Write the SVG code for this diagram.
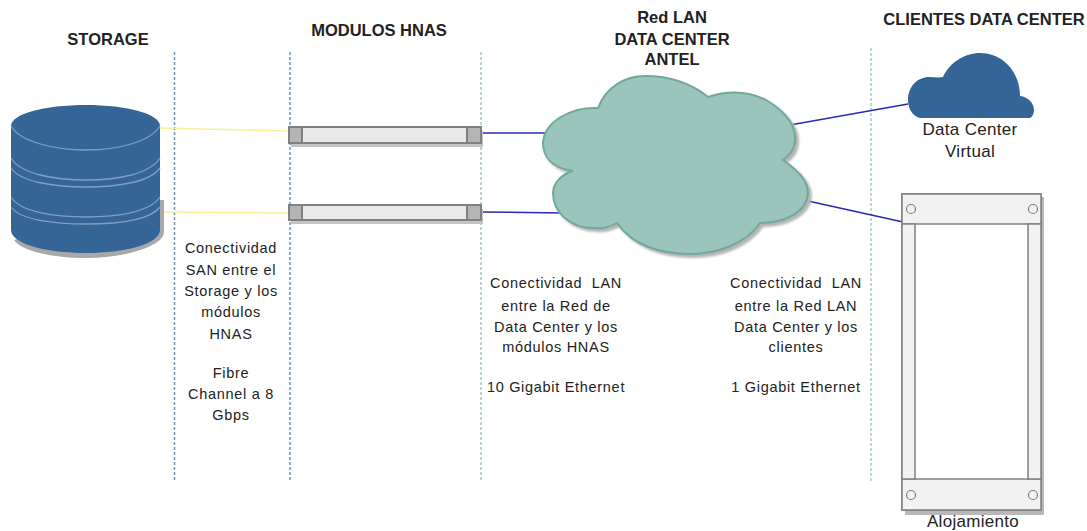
<svg xmlns="http://www.w3.org/2000/svg" width="1087" height="531" viewBox="0 0 1087 531">
<style>
text{font-family:"Liberation Sans",Arial,sans-serif;fill:#222}
.h{font-size:16.5px;font-weight:bold;text-anchor:middle}
.n{font-size:14.5px;text-anchor:middle;letter-spacing:.7px}
.l{font-size:17px;text-anchor:middle;letter-spacing:.3px}
.d{fill:none;stroke-width:1.5;stroke-dasharray:3 2}
.y{stroke:#f7f29a;stroke-width:1.5;fill:none}
.b{stroke:#2a2ab0;stroke-width:1.5;fill:none}
.s{fill:#b4b4b4;stroke:#808080;stroke-width:2}
.m{fill:#e9e9e9;stroke:#808080;stroke-width:2}
.r{fill:#f2f2f2;stroke:#808080;stroke-width:1.5}
.c{fill:#f2f2f2;stroke:#808080;stroke-width:1.2}
.e{fill:none;stroke:#7f9fc4;stroke-width:1.3}
</style>
<g id="connectors">
<path class="d" stroke="#6f92ad" d="M174.500 52V480"/>
<path class="d" stroke="#6f92ad" d="M290 52V480"/>
<path class="d" stroke="#a8c6c6" d="M481 52V480"/>
<path class="d" stroke="#a8cdc8" d="M871 48V482"/>
<path class="y" d="M159 128L289 131"/>
<path class="y" d="M163 212L289 213"/>
<path class="b" d="M481 133H548"/>
<path class="b" d="M481 212L564 213"/>
<path class="b" d="M790 125L908 104"/>
<path class="b" d="M808 201L903 222"/>
</g>
<g id="storage">
<path d="M160 200H164V232C164 246 125 258 86 258C50 258 20 250 14 240Z" fill="#a8a8a8"/>
<path d="M11 126C11 114 44 105 86 105C127 105 160 114 160 126V230C160 244 124 253 86 253C47 253 11 244 11 230Z" fill="#356497"/>
<path class="e" d="M11 126C20 142 55 150 86 150C118 150 150 142 160 126"/>
<path class="e" d="M11 158C20 174 55 180 86 180C118 180 150 174 160 158"/>
<path class="e" d="M11 168C20 182 55 187 86 187C118 187 150 182 160 168"/>
<path class="e" d="M11 197C20 212 55 217 86 217C118 217 150 212 160 197"/>
<path class="e" d="M11 207C20 220 55 224 86 224C118 224 150 220 160 207"/>
</g>
<g id="hnas1">
<rect x="291" y="131" width="192" height="16" fill="#c4c4c4"/>
<rect class="m" x="289" y="127" width="192" height="16"/>
<rect class="s" x="289" y="127" width="13" height="16"/>
<rect class="s" x="467" y="127" width="14" height="16"/>
</g>
<g id="hnas2">
<rect x="291" y="209" width="192" height="15" fill="#c4c4c4"/>
<rect class="m" x="289" y="205" width="192" height="15"/>
<rect class="s" x="289" y="205" width="13" height="15"/>
<rect class="s" x="467" y="205" width="14" height="15"/>
</g>
<g id="red-lan">
<path d="M598 108C606 87 625 76 645 76C670 76 692 84 708 97C730 90 750 92 766 100C780 108 795 122 795 137C796 147 790 155 783 160C797 170 808 180 808 193C807 212 785 223 760 223C745 245 715 254 690 254C660 254 632 245 617 223C608 228 600 229 593 228C570 228 553 212 553 193C553 183 562 174 573 171C552 168 543 157 543 143C544 122 570 107 598 108Z" fill="#9ac4bc" stroke="#70a99c" stroke-width="2" filter="drop-shadow(3px 3px 1px #b5b5b5)"/>
</g>
<g id="dc-virtual">
<path d="M920 118C912 116 908 108 908 100C908 86 918 77 929 77C934 77 939 78 943 77C950 62 965 53 980 53C1003 53 1020 72 1020 96C1028 97 1034 103 1034 110C1034 114 1032 117 1030 118Z" fill="#356497"/>
<text class="l" x="970" y="135">Data Center</text>
<text class="l" x="970" y="157">Virtual</text>
</g>
<g id="alojamiento">
<path d="M905 197H1044V515H905Z" fill="#b8b8b8"/>
<rect x="902" y="194" width="139" height="316" fill="#fff" stroke="#808080" stroke-width="1.500"/>
<rect class="r" x="902" y="194" width="139" height="30"/>
<rect class="r" x="902" y="479" width="139" height="31"/>
<rect class="r" x="902" y="224" width="13" height="255"/>
<rect class="r" x="1028" y="224" width="13" height="255"/>
<circle class="c" cx="911" cy="209" r="4.500"/>
<circle class="c" cx="1033" cy="209" r="4.500"/>
<circle class="c" cx="911" cy="495" r="4.500"/>
<circle class="c" cx="1033" cy="495" r="4.500"/>
<text class="l" x="973" y="527">Alojamiento</text>
</g>
<g id="labels">
<text class="h" x="108" y="45">STORAGE</text>
<text class="h" x="379" y="36">MODULOS HNAS</text>
<text class="h" x="672" y="23">Red LAN</text>
<text class="h" x="672" y="45">DATA CENTER</text>
<text class="h" x="672" y="65">ANTEL</text>
<text class="h" x="984" y="25">CLIENTES DATA CENTER</text>
<text class="n" x="231" y="253">Conectividad</text>
<text class="n" x="231" y="275">SAN entre el</text>
<text class="n" x="231" y="296">Storage y los</text>
<text class="n" x="231" y="317">módulos</text>
<text class="n" x="231" y="339">HNAS</text>
<text class="n" x="231" y="378">Fibre</text>
<text class="n" x="231" y="399">Channel a 8</text>
<text class="n" x="231" y="420">Gbps</text>
<text class="n" x="556" y="288" xml:space="preserve">Conectividad  LAN</text>
<text class="n" x="556" y="311">entre la Red de</text>
<text class="n" x="556" y="332">Data Center y los</text>
<text class="n" x="556" y="352">módulos HNAS</text>
<text class="n" x="556" y="392">10 Gigabit Ethernet</text>
<text class="n" x="796" y="288" xml:space="preserve">Conectividad  LAN</text>
<text class="n" x="796" y="311">entre la Red LAN</text>
<text class="n" x="796" y="332">Data Center y los</text>
<text class="n" x="796" y="352">clientes</text>
<text class="n" x="796" y="392">1 Gigabit Ethernet</text>
</g>
</svg>
